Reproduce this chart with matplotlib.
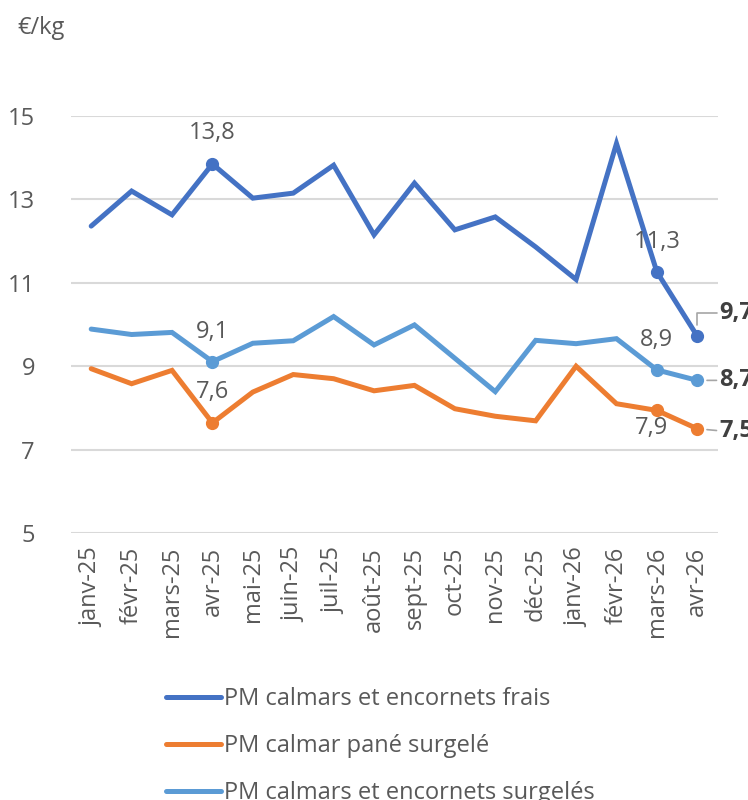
import matplotlib
matplotlib.use("Agg")
import matplotlib.pyplot as plt
from matplotlib.lines import Line2D

plt.rcParams['font.family'] = ['Open Sans', 'DejaVu Sans']

months = ['janv-25', 'févr-25', 'mars-25', 'avr-25', 'mai-25', 'juin-25', 'juil-25', 'août-25',
          'sept-25', 'oct-25', 'nov-25', 'déc-25', 'janv-26', 'févr-26', 'mars-26', 'avr-26']
frais = [12.36, 13.2, 12.63, 13.85, 13.03, 13.15, 13.82, 12.15, 13.39, 12.27, 12.58, 11.86, 11.08, 14.34, 11.26, 9.72]
pane = [8.94, 8.58, 8.9, 7.64, 8.38, 8.8, 8.7, 8.41, 8.54, 7.98, 7.8, 7.69, 9.0, 8.1, 7.94, 7.5]
surgeles = [9.89, 9.76, 9.81, 9.11, 9.55, 9.61, 10.19, 9.51, 9.99, 9.19, 8.39, 9.62, 9.54, 9.66, 8.91, 8.66]
names = ['PM calmars et encornets frais', 'PM calmar pané surgelé', 'PM calmars et encornets surgelés']
colors = ['#4472C4', '#ED7D31', '#5B9BD5']
yticks = [5, 7, 9, 11, 13, 15]

# points that carry a label: (index, offset in pixels)
label_pts = [
    [(3, (0, 31)), (14, (0, 30))],
    [(3, (0, 31)), (14, (-5, -18))],
    [(3, (0, 30)), (14, (0, 30))],
]

grey = '#595959'
fs = 17

fig = plt.figure(figsize=(7.48, 8), dpi=100)
ax = fig.add_axes([71 / 748, 1 - 533 / 800, 646.5 / 748, 417 / 800])

x = list(range(len(months)))
for s, (vals, col) in enumerate(zip([frais, pane, surgeles], colors)):
    ax.plot(x, vals, color=col, lw=3.6, solid_capstyle='round', solid_joinstyle='miter', zorder=3)
    idx = [i for i, _ in label_pts[s]] + [len(vals) - 1]
    ax.plot([x[i] for i in idx], [vals[i] for i in idx], 'o', color=col, ms=8.5, zorder=4, clip_on=False)
    for i, off in label_pts[s]:
        ax.annotate(f"{vals[i]:.1f}".replace('.', ','), (x[i], vals[i]), xytext=off,
                    textcoords='offset pixels', ha='center', va='center', fontsize=fs, color=grey)

# bold end labels with leader lines (cut by the right edge, as in the source)
last = len(months) - 1
ax.annotate(f"{frais[last]:.1f}".replace('.', ','), (x[last], frais[last]), xytext=(22, 23),
            textcoords='offset pixels', ha='left', va='center', fontsize=fs, fontweight='bold',
            color='#404040', annotation_clip=False,
            arrowprops=dict(arrowstyle='-', color='#A6A6A6', lw=1.2, relpos=(0, 0.5),
                            connectionstyle='angle,angleA=0,angleB=90,rad=0', shrinkA=0, shrinkB=8))
for vals, dy in [(surgeles, 0), (pane, -2)]:
    ax.annotate(f"{vals[last]:.1f}".replace('.', ','), (x[last], vals[last]), xytext=(22, dy),
                textcoords='offset pixels', ha='left', va='center', fontsize=fs, fontweight='bold',
                color='#404040', annotation_clip=False,
                arrowprops=dict(arrowstyle='-', color='#A6A6A6', lw=1.2, relpos=(0, 0.5),
                                shrinkA=0, shrinkB=7))

ax.set_xlim(-0.5, len(months) - 0.5)
ax.set_ylim(5, 15)
ax.set_yticks(yticks)
ax.set_yticklabels([str(t) for t in yticks])
ax.set_xticks(x)
ax.set_xticklabels(months, rotation=90)
ax.tick_params(axis='both', length=0, labelsize=fs, labelcolor=grey)
ax.tick_params(axis='y', pad=26)
ax.tick_params(axis='x', pad=10)
ax.grid(axis='y', color='#D9D9D9', lw=1.5)
ax.set_axisbelow(True)
for sp in ax.spines.values():
    sp.set_visible(False)

fig.text(17 / 748, 1 - 28 / 800, '€/kg', fontsize=fs, color=grey, va='center', ha='left')

handles = [Line2D([], [], color=c, lw=3.6, solid_capstyle='round') for c in colors]
fig.legend(handles, names, loc='upper left', bbox_to_anchor=(157 / 748, 1 - 678 / 800),
           frameon=False, fontsize=fs, labelcolor=grey, handlelength=2.3, handletextpad=0.15,
           labelspacing=0.97, borderaxespad=0)

fig.savefig('out.png', dpi=100)
